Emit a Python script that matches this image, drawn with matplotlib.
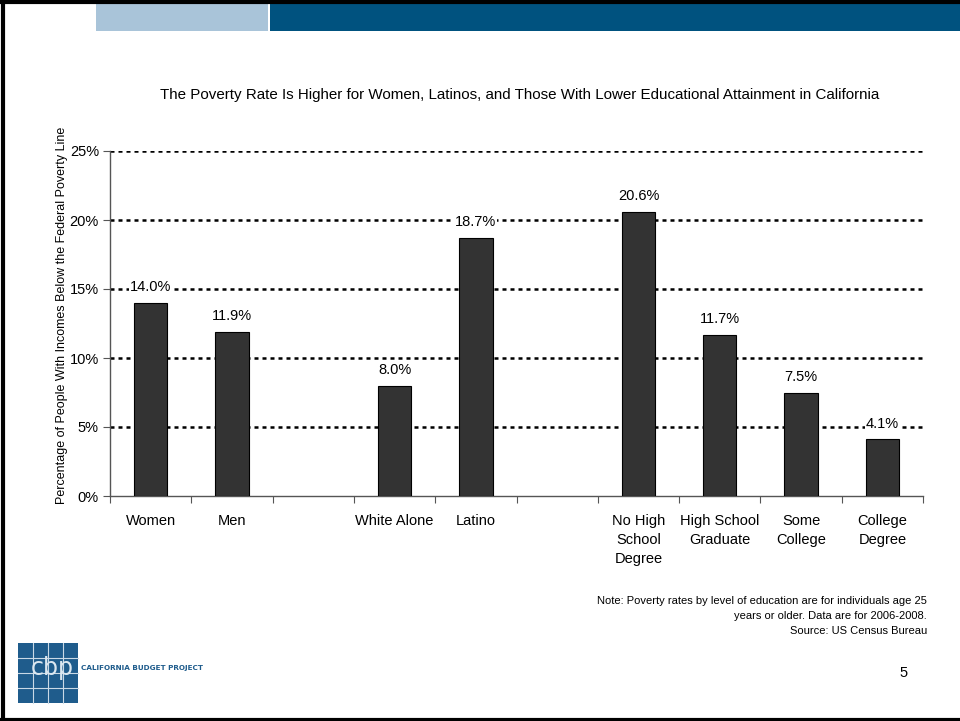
import matplotlib.pyplot as plt
import numpy as np
from matplotlib.patches import Rectangle
from matplotlib import font_manager

# pick a narrow font if there is one
names = set(f.name for f in font_manager.fontManager.ttflist)
narrow = 'Liberation Sans Narrow' if 'Liberation Sans Narrow' in names else 'Liberation Sans'
plt.rcParams['font.family'] = [narrow, 'DejaVu Sans']

categories = ['Women', 'Men', '', 'White Alone', 'Latino', '',
              'No High\nSchool\nDegree', 'High School\nGraduate', 'Some\nCollege', 'College\nDegree']
rates = [14.0, 11.9, None, 8.0, 18.7, None, 20.6, 11.7, 7.5, 4.1]
yticks = [0, 5, 10, 15, 20, 25]

title = 'The Poverty Rate Is Higher for Women, Latinos, and Those With Lower Educational Attainment in California'
ylabel = 'Percentage of People With Incomes Below the Federal Poverty Line'
note = ('Note: Poverty rates by level of education are for individuals age 25\n'
        'years or older. Data are for 2006-2008.\nSource: US Census Bureau')

W, H = 960, 721
fig = plt.figure(figsize=(9.6, 7.21), dpi=100)

# slide frame (top, left, bottom) + header bars
for xs, ys in [([0, 1], [1 - 2/H]*2), ([3/W]*2, [0, 1]), ([0, 1], [1/H]*2)]:
    fig.lines.append(plt.Line2D(xs, ys, transform=fig.transFigure, color='black', lw=3))
fig.patches.append(Rectangle((96/W, 1 - 31/H), 172/W, 27/H, transform=fig.transFigure,
                             facecolor='#a9c4d9', edgecolor='none'))
fig.patches.append(Rectangle((270/W, 1 - 31/H), 1 - 270/W, 27/H, transform=fig.transFigure,
                             facecolor='#00527f', edgecolor='none'))

ax = fig.add_axes([110/W, 1 - 496/H, 813/W, 345/H])
x = np.arange(len(categories))
for i, v in enumerate(rates):
    if v is None:
        continue
    ax.bar(i, v, width=0.41, color='#333333', edgecolor='black', lw=0.8, zorder=3)
    ax.text(i, v + 1.15, f'{v:.1f}%', ha='center', va='center', fontsize=10.5,
            zorder=4, bbox=dict(facecolor='white', edgecolor='none', pad=0.5))

ax.set_xlim(-0.5, len(categories) - 0.5)
ax.set_ylim(0, 25)
ax.set_yticks(yticks)
ax.set_yticklabels([f'{t}%' for t in yticks], fontsize=10.5)
for t in yticks[1:]:
    ax.axhline(t, color='black', lw=1.8, linestyle=(0, (1.6, 1.6)), zorder=1)

ax.set_xticks(np.arange(-0.5, len(categories), 1))
ax.set_xticklabels([])
ax.set_xticks(x, minor=True)
ax.set_xticklabels(categories, minor=True, fontsize=10.5, va='top', linespacing=1.45)
ax.tick_params(axis='x', which='major', length=5, color='#555555')
ax.tick_params(axis='x', which='minor', length=0, pad=13)
ax.tick_params(axis='y', length=5, color='#555555', pad=3)
for s in ['top', 'right']:
    ax.spines[s].set_visible(False)
for s in ['left', 'bottom']:
    ax.spines[s].set_color('#555555')
    ax.spines[s].set_linewidth(1)

fig.text(62/W, 1 - 315/H, ylabel, rotation=90, ha='center', va='center', fontsize=9)
fig.text(520/W, 1 - 95/H, title, ha='center', va='center', fontsize=10.9)
fig.text(927/W, 1 - 616/H, note, ha='right', va='center', fontsize=8, linespacing=1.65)
fig.text(904/W, 1 - 673/H, '5', ha='center', va='center', fontsize=10.5)

# logo
lx, ly, ls = 18, 643, 60
fig.patches.append(Rectangle((lx/W, 1 - (ly + ls)/H), ls/W, ls/H, transform=fig.transFigure,
                             facecolor='#1f5c8c', edgecolor='none'))
for k in range(1, 4):
    fig.lines.append(plt.Line2D([(lx + k*ls/4)/W]*2, [1 - (ly + ls)/H, 1 - ly/H],
                                transform=fig.transFigure, color='#c9d9e6', lw=0.8))
    fig.lines.append(plt.Line2D([lx/W, (lx + ls)/W], [1 - (ly + k*ls/4)/H]*2,
                                transform=fig.transFigure, color='#c9d9e6', lw=0.8))
fig.text((lx + 34)/W, 1 - 668/H, 'cbp', ha='center', va='center', fontsize=17,
         color='#dbe7f0', family='DejaVu Sans')
fig.text(81/W, 1 - 668/H, 'CALIFORNIA BUDGET PROJECT', ha='left', va='center',
         fontsize=5.2, color='#1f5c8c', family='DejaVu Sans', fontweight='bold')

fig.savefig('out.png', dpi=100)
